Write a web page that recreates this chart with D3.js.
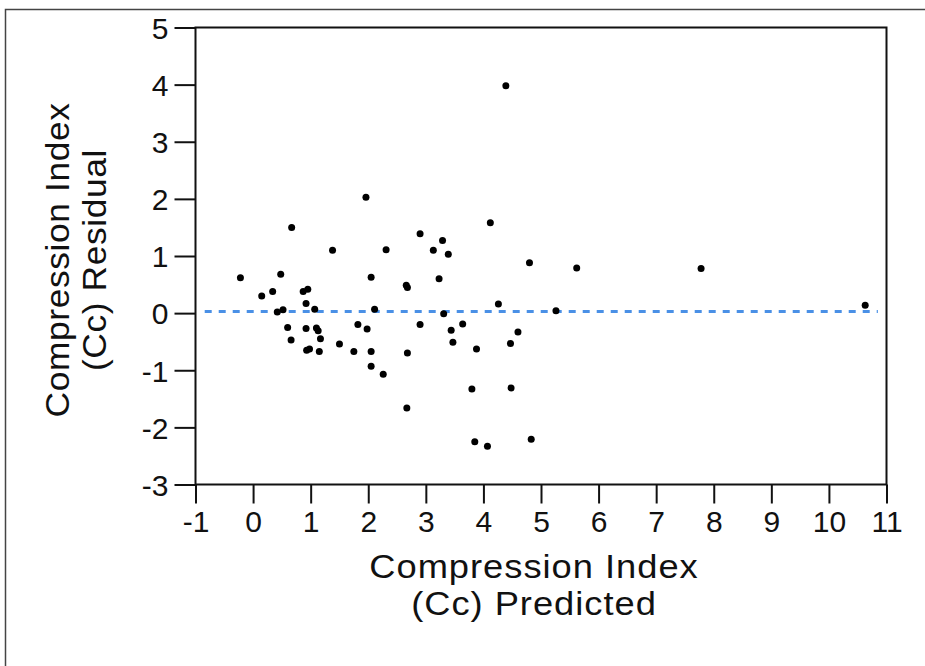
<!DOCTYPE html>
<html>
<head>
<meta charset="utf-8">
<script src="https://cdn.jsdelivr.net/npm/d3@7"></script>
<style>
  html, body { margin: 0; padding: 0; background: #fff; }
  svg { display: block; }
  text { font-family: "Liberation Sans", Arial, Helvetica, sans-serif; fill: #111; }
</style>
</head>
<body>
<svg id="chart" width="925" height="666"></svg>
<script>
// Predicted compression index (Cc) for each sample
const predicted = [
  -0.22, 0.15, 0.34, 0.48, 0.42, 0.52, 0.67, 0.60, 0.66, 0.87,
  0.95, 0.92, 1.07, 0.92, 1.10, 1.13, 1.17, 0.93, 0.98, 1.15,
  1.38, 1.50, 1.75, 1.82, 1.96, 1.98, 2.05, 2.11, 2.05, 2.05,
  2.26, 2.31, 2.66, 2.68, 2.68, 2.67, 2.90, 2.90, 3.13, 3.23,
  3.29, 3.39, 3.31, 3.44, 3.47, 3.64, 3.80, 3.85, 3.88, 4.07,
  4.12, 4.26, 4.39, 4.47, 4.48, 4.60, 4.80, 4.83, 5.26, 5.62,
  7.78, 10.63
];
// Residual (observed - predicted) for the same samples
const residual = [
  0.62, 0.30, 0.38, 0.68, 0.02, 0.06, 1.50, -0.25, -0.47, 0.38,
  0.42, 0.17, 0.07, -0.27, -0.26, -0.31, -0.45, -0.65, -0.63, -0.67,
  1.10, -0.54, -0.67, -0.20, 2.03, -0.28, 0.63, 0.07, -0.67, -0.93,
  -1.07, 1.11, 0.49, 0.45, -0.70, -1.66, 1.39, -0.20, 1.10, 0.60,
  1.27, 1.03, -0.01, -0.30, -0.51, -0.19, -1.33, -2.25, -0.63, -2.33,
  1.58, 0.16, 3.98, -0.53, -1.31, -0.33, 0.88, -2.21, 0.04, 0.79,
  0.78, 0.14
];
// Reference level of the residuals
const referenceLevel = [0.03];
// Axis ticks
const xTicks = [-1, 0, 1, 2, 3, 4, 5, 6, 7, 8, 9, 10, 11];
const yTicks = [-3, -2, -1, 0, 1, 2, 3, 4, 5];
const xTitle = ["Compression Index", "(Cc) Predicted"];
const yTitle = ["Compression Index", "(Cc) Residual"];

const svg = d3.select("#chart");
const plot = { left: 195.5, right: 886.5, top: 27.5, bottom: 484.5 };

const x = d3.scaleLinear().domain([-1, 11]).range([plot.left, plot.right]);
const y = d3.scaleLinear().domain([-3, 5]).range([plot.bottom, plot.top]);

// Outer frame of the figure
svg.append("path")
  .attr("d", `M5.5,680 V9.5 H930`)
  .attr("fill", "none")
  .attr("stroke", "#444")
  .attr("stroke-width", 1.5);

// Axes (plain hyphen for negative labels)
const fmt = d => String(d);
const xAxis = svg.append("g")
  .attr("transform", `translate(0,${plot.bottom})`)
  .call(d3.axisBottom(x).tickValues(xTicks).tickSize(19).tickPadding(7).tickFormat(fmt));
const yAxis = svg.append("g")
  .attr("transform", `translate(${plot.left},0)`)
  .call(d3.axisLeft(y).tickValues(yTicks).tickSize(21).tickPadding(6).tickFormat(fmt));

[xAxis, yAxis].forEach(g => {
  g.select(".domain").remove();
  g.selectAll(".tick line").attr("stroke", "#111").attr("stroke-width", 2);
  g.selectAll(".tick text")
    .attr("font-size", 30)
    .attr("fill", "#111")
    .style("font-family", "'Liberation Sans', Arial, sans-serif");
});
yAxis.selectAll(".tick text").attr("dy", "0.36em");

// Plot frame
svg.append("rect")
  .attr("x", plot.left).attr("y", plot.top)
  .attr("width", plot.right - plot.left)
  .attr("height", plot.bottom - plot.top)
  .attr("fill", "none")
  .attr("stroke", "#111")
  .attr("stroke-width", 2);

// Dashed reference line
svg.append("g").selectAll("line")
  .data(referenceLevel)
  .join("line")
  .attr("x1", x(-0.84)).attr("x2", x(10.85))
  .attr("y1", d => y(d)).attr("y2", d => y(d))
  .attr("stroke", "#4a90e6")
  .attr("stroke-width", 3)
  .attr("stroke-dasharray", "7,7");

// Residual points
svg.append("g").selectAll("circle")
  .data(predicted.map((p, i) => [p, residual[i]]))
  .join("circle")
  .attr("cx", d => x(d[0]))
  .attr("cy", d => y(d[1]))
  .attr("r", 3.5)
  .attr("fill", "#000");

// Axis titles, two lines each, slightly widened lettering
const xt = svg.append("g")
  .attr("transform", "translate(534,0) scale(1.1,1)")
  .append("text")
  .attr("text-anchor", "middle")
  .attr("font-size", 33)
  .attr("letter-spacing", 0.9);
xt.selectAll("tspan")
  .data(xTitle)
  .join("tspan")
  .attr("x", 0)
  .attr("y", (d, i) => 578 + i * 37)
  .text(d => d);

const yt = svg.append("g")
  .attr("transform", "translate(69,260) rotate(-90) scale(1.07,1)")
  .append("text")
  .attr("text-anchor", "middle")
  .attr("font-size", 33)
  .attr("letter-spacing", 0.6);
yt.selectAll("tspan")
  .data(yTitle)
  .join("tspan")
  .attr("x", 0)
  .attr("y", (d, i) => i * 37)
  .text(d => d);
</script>
</body>
</html>
